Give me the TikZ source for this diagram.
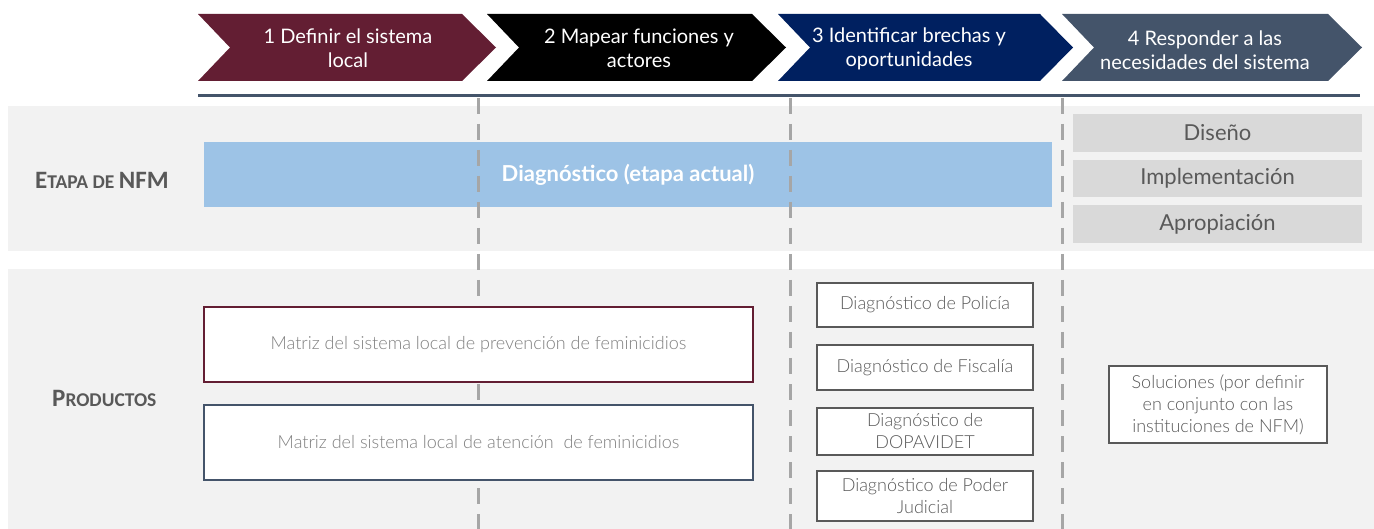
\documentclass[tikz,border=0pt]{standalone}
\usepackage{fontspec}
\setmainfont{Lato}
\newfontfamily\lightfont{Lato Light}
\newfontfamily\carlito{Carlito}
\definecolor{bandgray}{HTML}{F2F2F2}
\definecolor{maroon}{HTML}{631E33}
\definecolor{navy}{HTML}{002060}
\definecolor{slate}{HTML}{44546A}
\definecolor{bluebar}{HTML}{9DC3E6}
\definecolor{dashgray}{HTML}{A6A6A6}
\definecolor{boxgray}{HTML}{D9D9D9}
\definecolor{txtdark}{HTML}{595959}
\definecolor{txtlight}{HTML}{7F7F7F}
\tikzset{
  chevtext/.style={text=white,align=center,font=\fontsize{20}{24}\selectfont,inner sep=0pt},
  vdash/.style={draw=dashgray,line width=3pt,dash pattern=on 16pt off 10pt},
  phasebox/.style={fill=boxgray,text=txtdark,font=\fontsize{22}{24}\selectfont,inner sep=0pt,minimum width=289pt,minimum height=37.5pt},
  matbox/.style={fill=white,line width=2pt,text=txtlight,font=\lightfont\fontsize{18}{22}\selectfont,minimum width=549pt,minimum height=75pt,inner sep=0pt},
  diagbox/.style={draw=txtdark,fill=white,line width=2pt,text=txtdark,align=center,font=\lightfont\fontsize{18}{22}\selectfont,minimum width=216pt,inner sep=0pt},
  rowlabel/.style={text=txtdark,font=\carlito\bfseries,inner sep=0pt}
}
\begin{document}
\begin{tikzpicture}[x=1pt,y=-1pt]
\useasboundingbox (0,0) rectangle (1374,529);
% bands
\fill[bandgray] (8,106) rectangle (1374,251);
\fill[bandgray] (8,269) rectangle (1374,529);
% chevrons
\fill[maroon] (198,14) -- (462,14) -- (496,47.5) -- (462,81) -- (198,81) -- (230,47.5) -- cycle;
\fill[black] (487,14) -- (752,14) -- (786,47.5) -- (752,81) -- (487,81) -- (519,47.5) -- cycle;
\fill[navy] (778,14) -- (1040,14) -- (1073,47.5) -- (1040,81) -- (778,81) -- (810,47.5) -- cycle;
\fill[slate] (1062,14) -- (1328,14) -- (1362,47.5) -- (1328,81) -- (1062,81) -- (1094,47.5) -- cycle;
\node[chevtext] (c1) at (348,48) {1 Definir el sistema\\local};
\node[chevtext] (c2) at (639,48) {2 Mapear funciones y\\actores};
\node[chevtext] (c3) at (909,49) {3 Identificar brechas y\\oportunidades};
\node[chevtext] (c4) at (1205,50) {4 Responder a las\\necesidades del sistema};
% rule under chevrons
\coordinate (rl) at (198,96);
\coordinate (rr) at (1360,96);
\draw[slate,line width=3pt] (rl) -- (rr);
% blue bar
\node[fill=bluebar,minimum width=848pt,minimum height=65pt,inner sep=0pt,anchor=north west] (bar) at (204,142) {};
% dashed lines
\coordinate (d1t) at (478,98); \coordinate (d1b) at (478,529);
\coordinate (d2t) at (790,98); \coordinate (d2b) at (790,529);
\coordinate (d3t) at (1062,98); \coordinate (d3b) at (1062,529);
\draw[vdash] (d1t) -- (d1b);
\draw[vdash] (d2t) -- (d2b);
\draw[vdash] (d3t) -- (d3b);
\node[text=white,font=\bfseries\fontsize{22}{26}\selectfont] (diag) at (628,175) {Diagnóstico (etapa actual)};
% row labels
\node[rowlabel,anchor=west] (etapa) at (35,180) {{\fontsize{25}{28}\selectfont E}{\fontsize{19.5}{28}\selectfont TAPA DE }{\fontsize{25}{28}\selectfont NFM}};
\node[rowlabel,anchor=west] (prod) at (52,398) {{\fontsize{25}{28}\selectfont P}{\fontsize{19.5}{28}\selectfont RODUCTOS}};
% phase boxes
\node[phasebox] (dis) at (1217.5,133) {Diseño};
\node[phasebox] (imp) at (1217.5,178.5) {Implementación};
\node[phasebox] (apr) at (1217.5,224) {Apropiación};
% matrices
\node[matbox,draw=maroon] (m1) at (478.5,344.5) {Matriz del sistema local de prevención de feminicidios};
\node[matbox,draw=slate] (m2) at (478.5,442) {Matriz del sistema local de atención\ \ de feminicidios};
% diagnostics
\node[diagbox,minimum height=44pt] (pol) at (925,305) {Diagnóstico de Policía};
\node[diagbox,minimum height=45pt] (fis) at (925,367.5) {Diagnóstico de Fiscalía};
\node[diagbox,minimum height=47pt] (dop) at (925,431.5) {Diagnóstico de\\DOPAVIDET};
\node[diagbox,minimum height=50pt] (pj) at (925,496) {Diagnóstico de Poder\\Judicial};
% solutions
\node[diagbox,minimum width=218pt,minimum height=77pt] (sol) at (1218,404.5) {Soluciones (por definir\\en conjunto con las\\instituciones de NFM)};
\end{tikzpicture}
\end{document}
